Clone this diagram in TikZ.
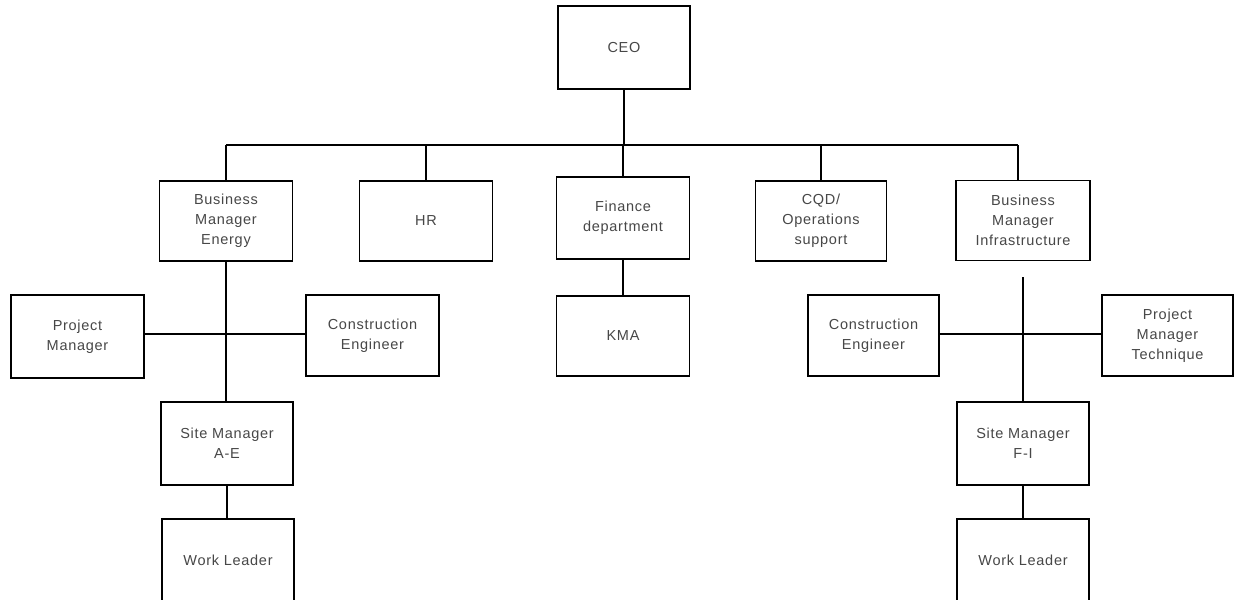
\documentclass[tikz,border=0pt]{standalone}
\usepackage{fontspec}
\setmainfont{Liberation Sans}[LetterSpace=5]
\begin{document}
\begin{tikzpicture}[x=1pt,y=-1pt,
  every node/.style={font=\fontsize{14.5}{20}\selectfont, text=black!72},
  box/.style={draw=black, line width=1.6pt, minimum width=133pt, minimum height=80pt,
              align=center, inner sep=0pt, fill=white},
  link/.style={draw=black, line width=1.6pt}]
\useasboundingbox (0,0) rectangle (1235,600);
\clip (0,0) rectangle (1235,600);

% top level
\node[box, minimum width=132pt, minimum height=83pt] (ceo) at (624,47.5) {CEO};

% second row
\node[box] (bme) at (226,221) {Business\\Manager\\Energy};
\node[box] (hr)  at (426,221) {HR};
\node[box, minimum height=82pt] (fin) at (623,218) {Finance\\department};
\node[box, minimum width=131pt] (cqd) at (821,221) {CQD/\\Operations\\support};
\node[box, minimum width=134pt] (bmi) at (1023,220.5) {Business\\Manager\\Infrastructure};

% left branch
\node[box, minimum height=83pt] (pm)  at (77.5,336.5) {Project\\Manager};
\node[box, minimum height=81pt] (ce1) at (372.5,335.5) {Construction\\Engineer};
\node[box, minimum width=132pt, minimum height=83pt] (siteA) at (227,443.5) {Site Manager\\A-E};
\node[box, minimum width=132pt, minimum height=82pt] (workA) at (228,560) {Work Leader};

% finance branch
\node[box] (kma) at (623,336) {KMA};

% right branch
\node[box, minimum width=131pt, minimum height=81pt] (ce2) at (873.5,335.5) {Construction\\Engineer};
\node[box, minimum width=131pt, minimum height=81pt] (pmt) at (1167.5,335.5) {Project\\Manager\\Technique};
\node[box, minimum width=132pt, minimum height=83pt] (siteF) at (1023,443.5) {Site Manager\\F-I};
\node[box, minimum width=132pt, minimum height=82pt] (workF) at (1023,560) {Work Leader};

% bus under the CEO
\coordinate (busL) at (226,145);
\coordinate (busR) at (1018,145);
\coordinate (rtop) at (1023,277);

\draw[link] (busL) -- (busR);
\draw[link] (ceo.south) -- (ceo.south |- busL);
\draw[link] (busL) -- (bme.north);
\draw[link] (hr.north) -- (hr.north |- busL);
\draw[link] (fin.north) -- (fin.north |- busL);
\draw[link] (cqd.north) -- (cqd.north |- busL);
\draw[link] (busR) -- (busR |- bmi.north);

% left branch connectors
\draw[link] (bme.south) -- (bme.south |- siteA.north);
\draw[link] (pm.east |- 0,334) -- (ce1.west |- 0,334);
\draw[link] (siteA.south) -- (siteA.south |- workA.north);

% finance connector
\draw[link] (fin.south) -- (kma.north);

% right branch connectors
\draw[link] (rtop) -- (siteF.north);
\draw[link] (ce2.east |- 0,334) -- (pmt.west |- 0,334);
\draw[link] (siteF.south) -- (workF.north);
\end{tikzpicture}
\end{document}
